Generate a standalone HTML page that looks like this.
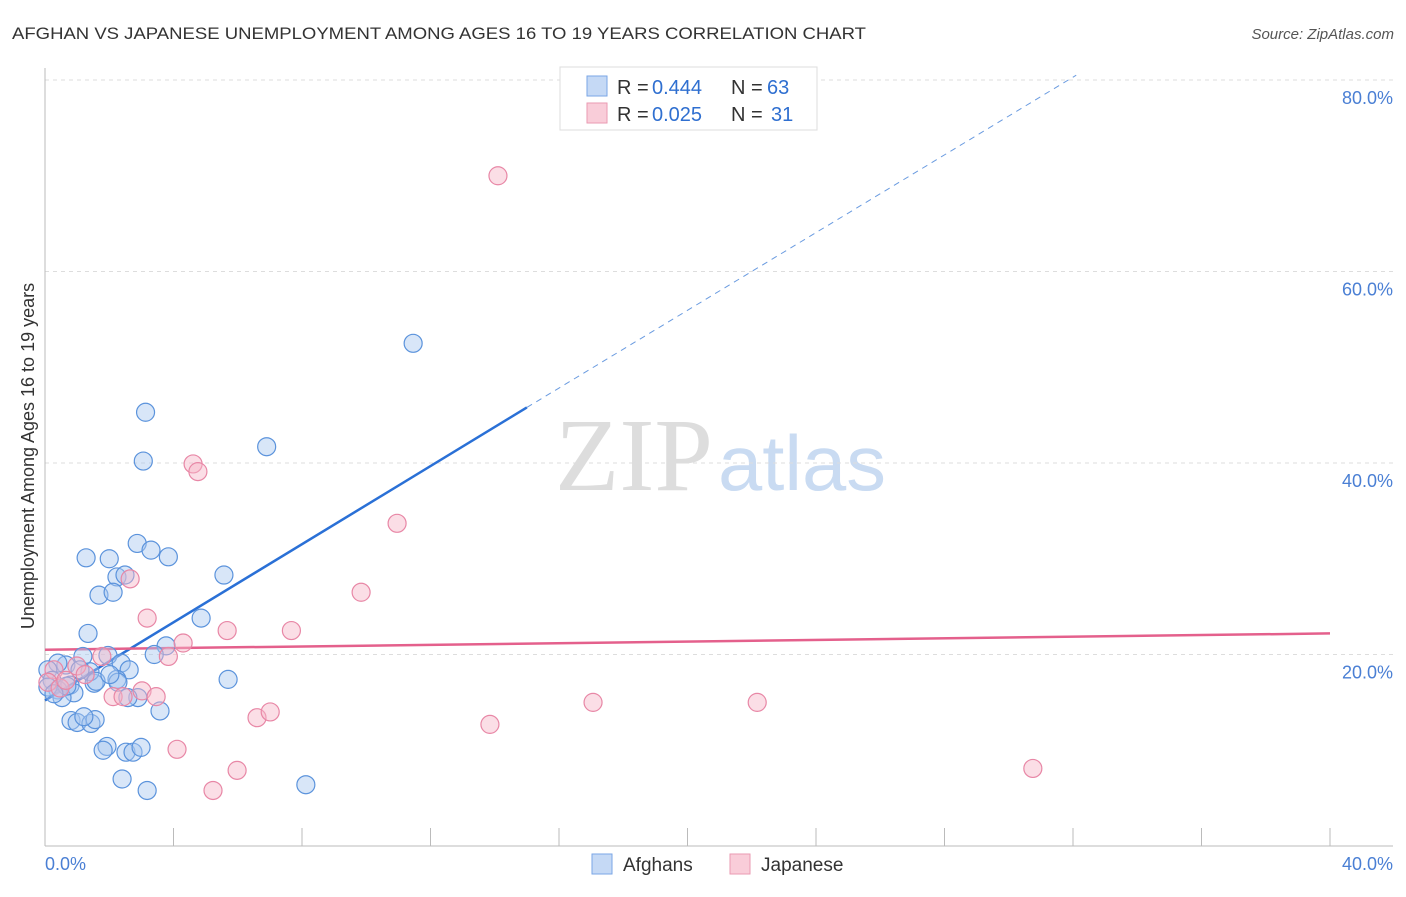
<!DOCTYPE html>
<html><head><meta charset="utf-8"><style>
body{margin:0;background:#fff;font-family:"Liberation Sans",sans-serif}
</style></head><body>
<svg width="1406" height="892" xmlns="http://www.w3.org/2000/svg">
<text x="12" y="39" font-size="17" fill="#333" textLength="854" lengthAdjust="spacingAndGlyphs">AFGHAN VS JAPANESE UNEMPLOYMENT AMONG AGES 16 TO 19 YEARS CORRELATION CHART</text>
<text x="1394" y="39" font-size="15" fill="#555" font-style="italic" text-anchor="end">Source: ZipAtlas.com</text>
<text x="713" y="490" font-size="104" font-family="Liberation Serif" fill="#ddd" text-anchor="end" textLength="158" lengthAdjust="spacingAndGlyphs">ZIP</text>
<text x="718" y="490" font-size="78" fill="#c9dbf2" textLength="168" lengthAdjust="spacingAndGlyphs">atlas</text>
<g id="grid"></g><g id="axes"></g><g id="lines"></g><g id="pts"></g>
<text transform="translate(34,456) rotate(-90)" font-size="18" fill="#333" text-anchor="middle">Unemployment Among Ages 16 to 19 years</text>
<text x="45" y="870" font-size="18" fill="#4a7fd4">0.0%</text>
<text x="1393" y="870" font-size="18" fill="#4a7fd4" text-anchor="end">40.0%</text>
<g>
<rect x="592" y="854" width="20" height="20" fill="#c5d9f5" stroke="#7aa6e6"/>
<text x="623" y="871" font-size="19" fill="#333">Afghans</text>
<rect x="730" y="854" width="20" height="20" fill="#f9cdd9" stroke="#ea9ab2"/>
<text x="761" y="871" font-size="19" fill="#333">Japanese</text>
</g>
<g font-size="20">
<rect x="560" y="67" width="257" height="63" fill="#fff" stroke="#ddd"/>
<rect x="587" y="76" width="20" height="20" fill="#c5d9f5" stroke="#7aa6e6"/>
<rect x="587" y="103" width="20" height="20" fill="#f9cdd9" stroke="#ea9ab2"/>
<text x="617" y="94" fill="#333">R =</text><text x="652" y="94" fill="#2f6fd0">0.444</text>
<text x="731" y="94" fill="#333">N =</text><text x="767" y="94" fill="#2f6fd0">63</text>
<text x="617" y="121" fill="#333">R =</text><text x="652" y="121" fill="#2f6fd0">0.025</text>
<text x="731" y="121" fill="#333">N =</text><text x="771" y="121" fill="#2f6fd0">31</text>
</g>
</svg>
<script>
const yTicks=[20,40,60,80];
const xTickVals=[0,4,8,12,16,20,24,28,32,36,40];
const afghanX=[3.13,6.9,3.06,11.46,1.28,2.0,2.87,3.3,3.84,5.57,2.24,2.49,1.68,2.12,4.86,1.34,3.77,3.4,1.96,1.18,2.37,2.62,5.7,2.24,2.27,1.53,0.65,0.4,0.09,0.22,0.78,1.4,1.59,0.9,0.4,0.53,0.09,2.89,2.58,3.58,0.81,1.0,1.43,1.56,1.21,1.93,1.81,2.52,2.74,2.99,2.4,3.18,8.12,0.68,0.28,1.09,2.02];
const afghanY=[45.3,41.7,40.2,52.5,30.1,30.0,31.6,30.9,30.2,28.3,28.1,28.3,26.2,26.5,23.8,22.2,20.9,20.0,19.9,19.8,19.1,18.4,17.4,17.4,17.1,17.0,18.9,19.1,18.4,17.3,16.8,18.2,17.2,16.0,16.3,15.5,16.6,15.5,15.5,14.1,13.1,12.9,12.8,13.2,13.5,10.4,10.0,9.8,9.8,10.3,7.0,5.8,6.4,16.7,15.9,18.4,17.9];
const japX=[14.1,4.61,4.76,10.96,2.65,9.84,3.18,4.3,5.67,7.67,3.84,1.77,0.99,0.28,0.09,0.47,1.25,2.12,2.43,3.02,3.46,6.6,7.01,17.06,22.17,13.85,4.11,5.98,5.23,30.75,0.65];
const japY=[70.0,39.9,39.1,33.7,27.9,26.5,23.8,21.2,22.5,22.5,19.8,19.8,18.8,18.4,17.1,16.5,17.9,15.6,15.6,16.2,15.6,13.4,14.0,15.0,15.0,12.7,10.1,7.9,5.8,8.1,17.3];
const blueLine=[[0,15.2],[15,45.8],[32.1,80.5]];
const pinkLine=[[0,20.5],[40,22.2]];
const X=v=>45+v*(1285/40), Y=v=>846-v*(766/80);
const NS="http://www.w3.org/2000/svg";
function mk(t,a,p){const e=document.createElementNS(NS,t);for(const k in a)e.setAttribute(k,a[k]);document.getElementById(p).appendChild(e);return e;}
yTicks.forEach(t=>{
 const g=mk('line',{x1:45,x2:1393,y1:Y(t),y2:Y(t),stroke:'#ddd','stroke-dasharray':'4,4'},'grid');
 
 
 const l=mk('text',{x:1393,y:Y(t)+24,'font-size':18,fill:'#4a7fd4','text-anchor':'end'},'grid');
 l.textContent=t.toFixed(1)+'%';
 
 
});
const ax=mk('line',{x1:45,x2:1393,y1:846,y2:846,stroke:'#bbb'},'axes');


const ay=mk('line',{x1:45,x2:45,y1:68,y2:846,stroke:'#bbb'},'axes');


xTickVals.forEach(t=>{
 const e=mk('line',{x1:X(t),x2:X(t),y1:828,y2:846,stroke:'#bbb'},'axes');
 
 
});
function pts(xs,ys,fill,stroke,name){xs.forEach((x,i)=>{
 const c=mk('circle',{cx:X(x),cy:Y(ys[i]),r:9,fill:fill,'fill-opacity':0.45,stroke:stroke,'stroke-width':1.2},'pts');
 
 
});}
pts(afghanX,afghanY,'#a8c8f0','#5b93dc','afghan-point');
pts(japX,japY,'#f6b6c8','#e887a6','japanese-point');
let b=mk('line',{x1:X(blueLine[0][0]),y1:Y(blueLine[0][1]),x2:X(blueLine[1][0]),y2:Y(blueLine[1][1]),stroke:'#2a70d6','stroke-width':2.5},'lines');


b=mk('line',{x1:X(blueLine[1][0]),y1:Y(blueLine[1][1]),x2:X(blueLine[2][0]),y2:Y(blueLine[2][1]),stroke:'#6a9be0','stroke-width':1,'stroke-dasharray':'6,5'},'lines');


b=mk('line',{x1:X(pinkLine[0][0]),y1:Y(pinkLine[0][1]),x2:X(pinkLine[1][0]),y2:Y(pinkLine[1][1]),stroke:'#e4608c','stroke-width':2.5},'lines');


</script>
</body></html>
